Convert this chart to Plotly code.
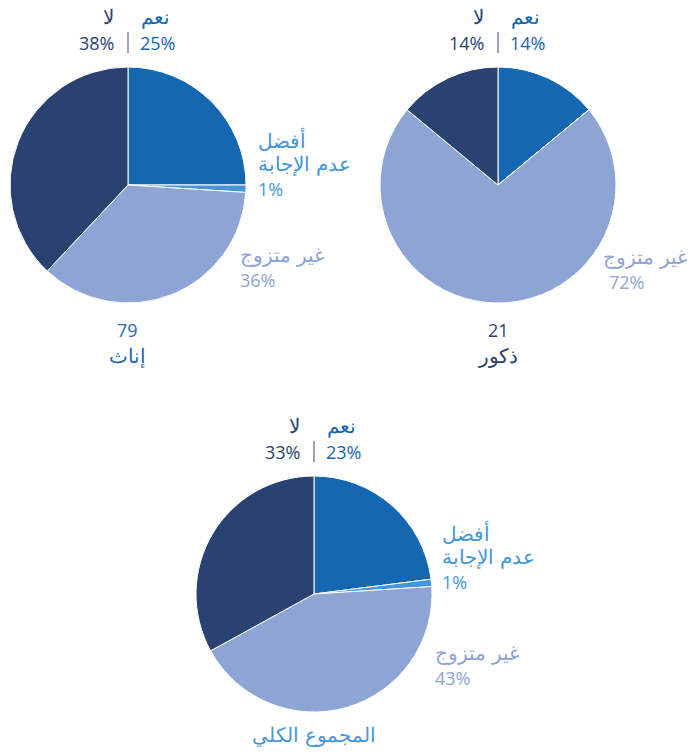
import plotly.graph_objects as go

# Categories (clockwise from 12 o'clock)
categories = ["نعم", "أفضل عدم الإجابة", "غير متزوج", "لا"]
colors = ["#1467b0", "#4596d8", "#8ea4d4", "#2a4272"]

females = [25, 1, 36, 38]
males = [14, 0, 72, 14]
total = [23, 1, 43, 33]

female_count = 79
male_count = 21

W, H = 691, 753
R = 118  # pie radius in px

pies = [
    dict(vals=females, cx=128, cy=185, title=[str(female_count), "إناث"],
         tcol="#2a6aad", pref=(128, -45), unm=(110, 70), unm_right=None),
    dict(vals=males, cx=498, cy=185, title=[str(male_count), "ذكور"],
         tcol="#2b3f6e", pref=None, unm=(109, 72), unm_right=689),
    dict(vals=total, cx=314, cy=594, title=["المجموع الكلي"],
         tcol="#4a96d4", pref=(126, -61), unm=(119, 59), unm_right=None),
]

NUM_FONT = "Segoe UI, Open Sans, sans-serif"
AR_FONT = "Segoe UI, DejaVu Sans, sans-serif"
NUM_FS = 18
AR_FS = 20

fig = go.Figure()
annotations = []
shapes = []


def px_x(x):
    return x / W


def px_y(y):
    return 1 - y / H


def label(text, x, y, color, anchor="left", arabic=False):
    annotations.append(dict(
        x=px_x(x), y=px_y(y), xref="paper", yref="paper",
        text=text, showarrow=False, xanchor=anchor, yanchor="middle",
        font=dict(family=AR_FONT if arabic else NUM_FONT,
                  size=AR_FS if arabic else NUM_FS, color=color,
                  weight=300 if arabic else 400),
    ))


for p in pies:
    cx, cy = p["cx"], p["cy"]
    fig.add_trace(go.Pie(
        labels=categories, values=p["vals"], sort=False,
        direction="clockwise", rotation=0,
        marker=dict(colors=colors, line=dict(color="white", width=1)),
        textinfo="none", hoverinfo="label+percent", showlegend=False,
        domain=dict(x=[px_x(cx - R), px_x(cx + R)],
                    y=[px_y(cy + R), px_y(cy - R)]),
    ))
    v = p["vals"]
    # yes / no labels above the pie
    label(categories[0], cx + 11, cy - 168, colors[0], "left", True)
    label(f"{v[0]}%", cx + 10, cy - 142, colors[0], "left")
    label(categories[3], cx - 12, cy - 168, colors[3], "right", True)
    label(f"{v[3]}%", cx - 12, cy - 142, colors[3], "right")
    shapes.append(dict(type="line", xref="paper", yref="paper",
                       x0=px_x(cx), x1=px_x(cx),
                       y0=px_y(cy - 153), y1=px_y(cy - 132),
                       line=dict(color="#7a86a8", width=1.5)))
    # prefer-not-to-answer label
    if p["pref"] is not None and v[1] > 0:
        dx, dy = p["pref"]
        label("أفضل", cx + dx, cy + dy, colors[1], "left", True)
        label("عدم الإجابة", cx + dx, cy + dy + 24, colors[1], "left", True)
        label(f"{v[1]}%", cx + dx, cy + dy + 49, colors[1], "left")
    # unmarried label
    dx, dy = p["unm"]
    if p["unm_right"] is not None:
        label(categories[2], p["unm_right"], cy + dy, colors[2], "right", True)
    else:
        label(categories[2], cx + dx, cy + dy, colors[2], "left", True)
    label(f"{v[2]}%", cx + dx, cy + dy + 25, colors[2], "left")
    # title under the pie
    if len(p["title"]) == 2:
        label(p["title"][0], cx, cy + 145, p["tcol"], "center")
        label(p["title"][1], cx, cy + 171, p["tcol"], "center", True)
    else:
        label(p["title"][0], cx, cy + 141, p["tcol"], "center", True)

fig.update_layout(
    width=W, height=H,
    margin=dict(l=0, r=0, t=0, b=0),
    paper_bgcolor="white", plot_bgcolor="white",
    annotations=annotations, shapes=shapes,
)

fig.write_html("out.html")
